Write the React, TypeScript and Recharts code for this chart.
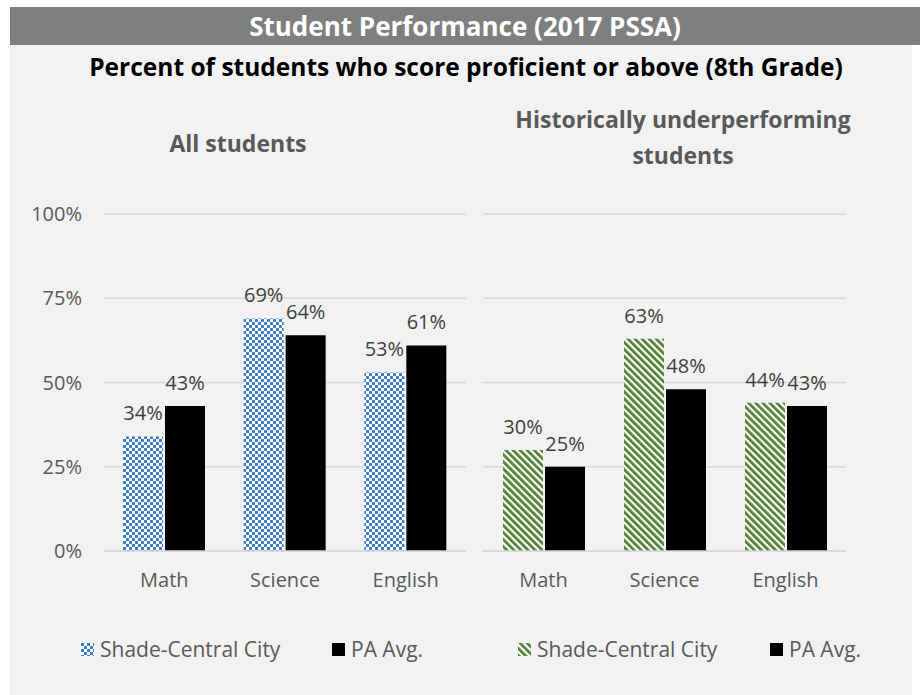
import { BarChart, Bar, XAxis, YAxis, CartesianGrid, LabelList } from "recharts";

const categories = ["Math", "Science", "English"];
const allShade = [34, 69, 53];
const allPA = [43, 64, 61];
const underShade = [30, 63, 44];
const underPA = [25, 48, 43];
const yTicks = [0, 25, 50, 75, 100];

const FONT = "'Open Sans', sans-serif";
const GRID = "#d9d9d9";
const TEXT = "#595959";

const allData = categories.map((c, i) => ({ cat: c, shade: allShade[i], pa: allPA[i] }));
const underData = categories.map((c, i) => ({ cat: c, shade: underShade[i], pa: underPA[i] }));

function Patterns() {
  return (
    <defs>
      <pattern id="checker" width="6" height="6" patternUnits="userSpaceOnUse">
        <rect width="6" height="6" fill="#ffffff" />
        <rect x="0" y="0" width="3" height="3" fill="#3f7fc8" />
        <rect x="3" y="3" width="3" height="3" fill="#3f7fc8" />
      </pattern>
      <pattern
        id="stripes"
        width="5"
        height="5"
        patternUnits="userSpaceOnUse"
        patternTransform="rotate(-45)"
      >
        <rect width="5" height="5" fill="#ffffff" />
        <rect x="0" y="0" width="2.8" height="5" fill="#548235" />
      </pattern>
    </defs>
  );
}

function Panel({ data, fillId, showY, left, marginLeft }: any) {
  return (
    <div style={{ position: "absolute", left, top: 190 }}>
      <BarChart
        width={showY ? 480 : 390}
        height={410}
        data={data}
        margin={{ top: 24, right: 14, left: marginLeft, bottom: 9 }}
        barGap={2}
        barSize={40}
      >
        <Patterns />
        <CartesianGrid vertical={false} stroke={GRID} strokeWidth={1.5} />
        <XAxis
          dataKey="cat"
          height={40}
          tickLine={false}
          axisLine={{ stroke: GRID, strokeWidth: 1.5 }}
          tickMargin={16}
          tick={{ fontSize: 20, fill: TEXT, fontFamily: FONT }}
        />
        <YAxis
          hide={!showY}
          width={104}
          domain={[0, 100]}
          ticks={yTicks}
          tickLine={false}
          axisLine={false}
          tickMargin={16}
          tickFormatter={(v) => `${v}%`}
          tick={{ fontSize: 20, fill: TEXT, fontFamily: FONT }}
        />
        <Bar dataKey="shade" fill={`url(#${fillId})`} isAnimationActive={false}>
          <LabelList
            dataKey="shade"
            position="top"
            offset={16}
            formatter={(v: any) => `${v}%`}
            style={{ fontSize: 20, fill: "#404040", fontFamily: FONT }}
          />
        </Bar>
        <Bar dataKey="pa" fill="#000000" isAnimationActive={false}>
          <LabelList
            dataKey="pa"
            position="top"
            offset={16}
            formatter={(v: any) => `${v}%`}
            style={{ fontSize: 20, fill: "#404040", fontFamily: FONT }}
          />
        </Bar>
      </BarChart>
    </div>
  );
}

function LegendItem({ x, fillId, label }: any) {
  return (
    <div
      style={{
        position: "absolute",
        left: x,
        top: 636,
        height: 26,
        display: "flex",
        alignItems: "center",
        fontFamily: FONT,
        fontSize: 21,
        color: TEXT,
        whiteSpace: "nowrap",
      }}
    >
      <svg width="13" height="13" style={{ marginRight: 6 }}>
        <Patterns />
        <rect width="13" height="13" fill={fillId ? `url(#${fillId})` : "#000"} />
      </svg>
      {label}
    </div>
  );
}

export default function App() {
  return (
    <div
      style={{
        position: "absolute",
        left: 0,
        top: 0,
        width: 920,
        height: 695,
        background: "#ffffff",
        fontFamily: FONT,
        overflow: "hidden",
      }}
    >
      <div
        style={{
          position: "absolute",
          left: 10,
          top: 45,
          width: 902,
          height: 650,
          background: "#f2f2f2",
        }}
      />
      <div
        style={{
          position: "absolute",
          left: 10,
          top: 7,
          width: 910,
          height: 38,
          background: "#7f7f7f",
          color: "#ffffff",
          fontWeight: 700,
          fontSize: 26,
          lineHeight: "38px",
          textAlign: "center",
        }}
      >
        Student Performance (2017 PSSA)
      </div>
      <div
        style={{
          position: "absolute",
          left: 0,
          top: 49,
          width: 932,
          lineHeight: "36px",
          textAlign: "center",
          fontWeight: 700,
          fontSize: 24.5,
          color: "#000000",
        }}
      >
        Percent of students who score proficient or above (8th Grade)
      </div>
      <div
        style={{
          position: "absolute",
          left: 138,
          top: 125,
          width: 200,
          lineHeight: "36px",
          textAlign: "center",
          fontWeight: 700,
          fontSize: 23,
          color: TEXT,
        }}
      >
        All students
      </div>
      <div
        style={{
          position: "absolute",
          left: 483,
          top: 101,
          width: 400,
          lineHeight: "36px",
          textAlign: "center",
          fontWeight: 700,
          fontSize: 23,
          color: TEXT,
        }}
      >
        Historically underperforming
        <br />
        students
      </div>
      <Panel data={allData} fillId="checker" showY left={0} marginLeft={0} />
      <Panel data={underData} fillId="stripes" showY={false} left={470} marginLeft={13} />
      <LegendItem x={81} fillId="checker" label="Shade-Central City" />
      <LegendItem x={332} label="PA Avg." />
      <LegendItem x={518} fillId="stripes" label="Shade-Central City" />
      <LegendItem x={770} label="PA Avg." />
    </div>
  );
}
